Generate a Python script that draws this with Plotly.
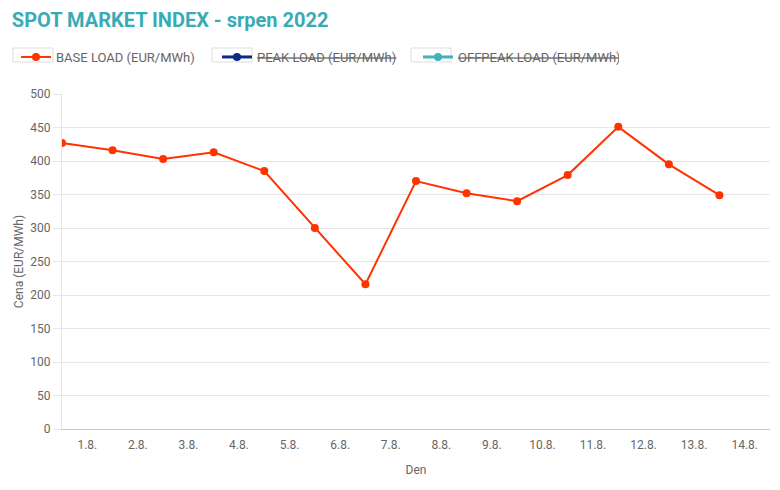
import plotly.graph_objs as go

# data (srpen 2022)
days = ['1.8.', '2.8.', '3.8.', '4.8.', '5.8.', '6.8.', '7.8.',
        '8.8.', '9.8.', '10.8.', '11.8.', '12.8.', '13.8.', '14.8.']
base_load = [427, 416, 403, 413, 385, 300, 216,
             370, 352, 340, 379, 451, 395, 349]
# the other two series are switched off in the reference
peak_load = [None]
offpeak_load = [None]

idx = list(range(len(days)))
tick_pos = [i + 0.5 for i in idx]

# page body has an 8px margin, so the figure sits at (8, 8)
W, H = 772, 482
ML, MR, MT, MB = 54, 10, 86, 61
PW, PH = W - ML - MR, H - MT - MB


def px_x(win_x):
    return (win_x - 8 - ML) / PW


def px_y(win_y):
    return (H - MB + 8 - win_y) / PH


fig = go.Figure()
fig.add_trace(go.Scatter(
    x=idx, y=base_load,
    mode='lines+markers',
    name='BASE LOAD (EUR/MWh)',
    line=dict(color='#ff3300', width=2),
    marker=dict(color='#ff3300', size=8),
))
fig.add_trace(go.Scatter(
    x=idx[:len(peak_load)], y=peak_load,
    mode='lines+markers',
    name='<s>PEAK LOAD (EUR/MWh)</s>',
    line=dict(color='#0d2a8a', width=3),
    marker=dict(color='#0d2a8a', size=8),
    showlegend=True,
))
fig.add_trace(go.Scatter(
    x=idx[:len(offpeak_load)], y=offpeak_load,
    mode='lines+markers',
    name='<s>OFFPEAK LOAD (EUR/MWh)</s>',
    line=dict(color='#3fb4ba', width=3),
    marker=dict(color='#3fb4ba', size=8),
    showlegend=True,
))

# light boxes round the legend symbols
for k in range(3):
    x0 = 13 + 199 * k
    fig.add_shape(type='rect', xref='paper', yref='paper',
                  x0=px_x(x0), x1=px_x(x0 + 40),
                  y0=px_y(62), y1=px_y(48),
                  line=dict(color='#dddddd', width=1),
                  fillcolor='rgba(0,0,0,0)', layer='below')

fig.update_layout(
    width=W, height=H,
    margin=dict(l=ML, r=MR, t=MT, b=MB, autoexpand=False),
    paper_bgcolor='white',
    plot_bgcolor='white',
    showlegend=True,
    font=dict(family='Roboto, sans-serif', size=12, color='#666666'),
    title=dict(
        text='<b>SPOT MARKET INDEX - srpen 2022</b>',
        xref='container', yref='container',
        x=0.005, xanchor='left', y=0.975, yanchor='middle',
        font=dict(size=20, color='#3aabb5'),
    ),
    legend=dict(
        orientation='h',
        x=px_x(16), xanchor='left',
        y=px_y(57), yanchor='middle',
        entrywidth=156, entrywidthmode='pixels',
        font=dict(size=13, color='#666666'),
        itemclick=False, itemdoubleclick=False,
        bgcolor='rgba(0,0,0,0)',
    ),
    xaxis=dict(
        range=[0, 14],
        tickmode='array', tickvals=tick_pos, ticktext=days,
        showgrid=False,
        showline=True, linecolor='#c8c8c8', linewidth=1,
        ticks='', ticklabelstandoff=5, zeroline=False,
        title=dict(text='Den', standoff=14, font=dict(size=12)),
        automargin=False,
        fixedrange=True,
    ),
    yaxis=dict(
        range=[0, 500], dtick=50,
        gridcolor='#e6e6e6', gridwidth=1,
        showline=True, linecolor='#e6e6e6',
        ticks='outside', ticklen=8, tickcolor='#e6e6e6',
        zeroline=False,
        title=dict(text='Cena (EUR/MWh)', standoff=4, font=dict(size=12)),
        automargin=False,
        fixedrange=True,
    ),
)

fig.write_html('out.html')
